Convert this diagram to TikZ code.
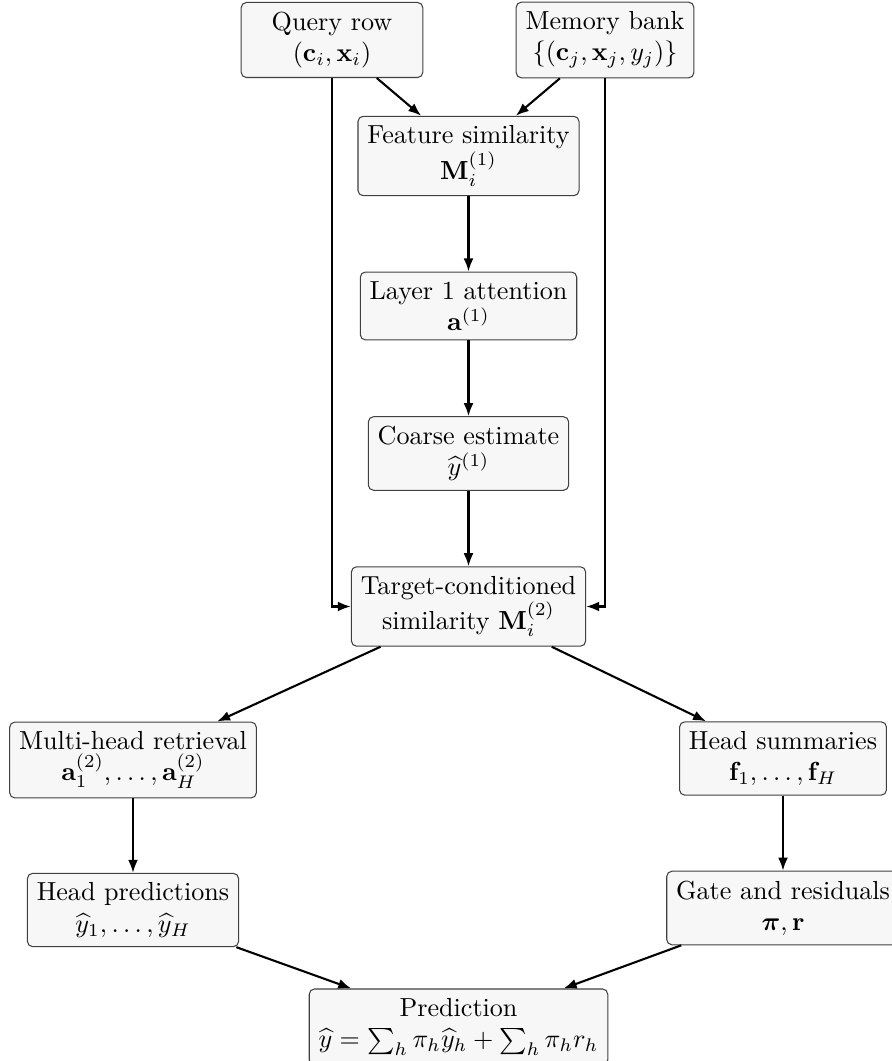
\documentclass[tikz,border=0pt]{standalone}
\usepackage{amsmath,amssymb,bm}
\usetikzlibrary{arrows.meta}
\begin{document}
\begin{tikzpicture}[x=0.3831pt,y=-0.3831pt,
  box/.style={draw=black!75, fill=gray!6, rounded corners=2pt, align=center, inner sep=3.6pt},
  arr/.style={-{Latex[length=5pt,width=3.8pt]}, thick, black}]
\useasboundingbox (0,0) rectangle (891,1061);
\node[box, minimum width=69.6pt] (q) at (332,40) {Query row\\$(\mathbf{c}_i,\mathbf{x}_i)$};
\node[box] (m) at (605,40) {Memory bank\\$\{(\mathbf{c}_j,\mathbf{x}_j,y_j)\}$};
\node[box] (fs) at (468.5,156) {Feature similarity\\$\mathbf{M}_i^{(1)}$};
\node[box] (l1) at (468.5,306) {Layer 1 attention\\$\mathbf{a}^{(1)}$};
\node[box] (ce) at (468.5,453.5) {Coarse estimate\\$\widehat{y}^{(1)}$};
\node[box] (tc) at (468.5,606.5) {Target-conditioned\\similarity $\mathbf{M}_i^{(2)}$};
\node[box] (mh) at (133,760) {Multi-head retrieval\\$\mathbf{a}_1^{(2)},\ldots,\mathbf{a}_H^{(2)}$};
\node[box] (hs) at (783,758.5) {Head summaries\\$\mathbf{f}_1,\ldots,\mathbf{f}_H$};
\node[box] (hp) at (133,910) {Head predictions\\$\widehat{y}_1,\ldots,\widehat{y}_H$};
\node[box] (gr) at (783,908) {Gate and residuals\\$\bm{\pi},\mathbf{r}$};
\node[box] (pr) at (458.5,1027) {Prediction\\$\widehat{y}=\sum_h\pi_h\widehat{y}_h+\sum_h\pi_h r_h$};
\draw[arr] (q) -- (fs);
\draw[arr] (m) -- (fs);
\draw[arr] (fs) -- (l1);
\draw[arr] (l1) -- (ce);
\draw[arr] (ce) -- (tc);
\draw[arr] (q.south) |- (tc.west);
\draw[arr] (m.south) |- (tc.east);
\draw[arr] (tc) -- (mh);
\draw[arr] (tc) -- (hs);
\draw[arr] (mh) -- (hp);
\draw[arr] (hs) -- (gr);
\draw[arr] (hp) -- (pr);
\draw[arr] (gr) -- (pr);
\end{tikzpicture}
\end{document}
